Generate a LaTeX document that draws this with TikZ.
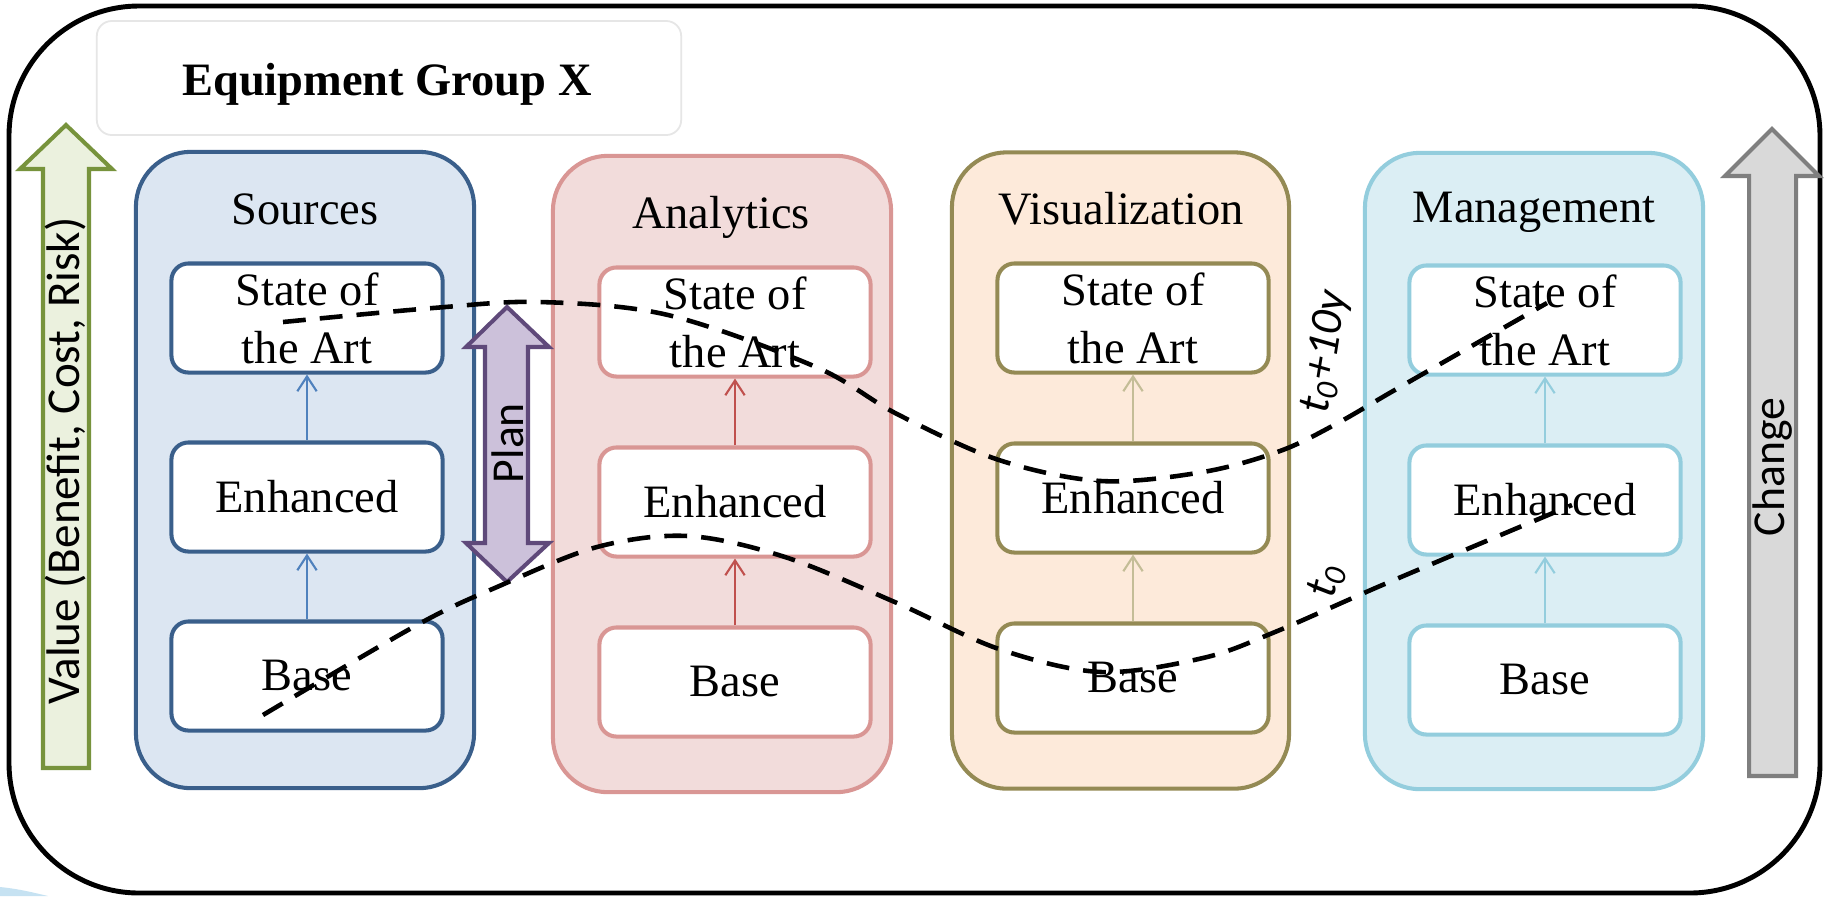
\documentclass[tikz,border=0pt]{standalone}
\usepackage{fontspec}
\setmainfont{Liberation Serif}
\newfontfamily\calib{Carlito}
\usetikzlibrary{arrows.meta}

% palette
\definecolor{srcfill}{HTML}{DCE6F2}
\definecolor{srcline}{HTML}{3A5F8B}
\definecolor{srcarrow}{HTML}{4F81BD}
\definecolor{anafill}{HTML}{F2DCDB}
\definecolor{analine}{HTML}{D99694}
\definecolor{anaarrow}{HTML}{C0504D}
\definecolor{visfill}{HTML}{FDEADA}
\definecolor{visline}{HTML}{948A54}
\definecolor{visarrow}{HTML}{C4BD97}
\definecolor{mgtfill}{HTML}{DBEEF4}
\definecolor{mgtline}{HTML}{93CDDD}
\definecolor{valfill}{HTML}{EBF1DE}
\definecolor{valline}{HTML}{77933C}
\definecolor{planfill}{HTML}{CCC1DA}
\definecolor{planline}{HTML}{5F497A}
\definecolor{chgfill}{HTML}{D9D9D9}
\definecolor{chgline}{HTML}{7F7F7F}
\definecolor{titleline}{HTML}{E6E6E6}
\definecolor{swoosh}{HTML}{C6E2F2}

\newcommand\stagefont{\fontsize{13.2pt}{16.5pt}\selectfont}
\newcommand\sidefont{\calib\fontsize{13pt}{15pt}\selectfont}
\newcommand\horizonfont{\calib\itshape\fontsize{13pt}{15pt}\selectfont}

\tikzset{
  panel/.style={draw, rounded corners=0.55cm, line width=1.15pt,
    minimum width=3.38cm, minimum height=6.36cm, inner sep=0pt},
  stage/.style={draw, fill=white, rounded corners=0.17cm, line width=1.15pt,
    minimum width=2.71cm, minimum height=1.09cm, inner sep=0pt,
    align=center, font=\stagefont},
  ptitle/.style={anchor=base, font=\stagefont, inner sep=0pt},
  lift/.style={line width=0.6pt, -{Straight Barb[length=4.2pt,width=5.5pt]}},
  blockarrow/.style={line width=1.15pt, line join=miter},
  sidelabel/.style={font=\sidefont, rotate=90, inner sep=0pt},
  horizon/.style={line width=1.3pt, dash pattern=on 6.5pt off 4pt},
  horizonlabel/.style={font=\horizonfont, inner sep=0pt},
}

\begin{document}
\begin{tikzpicture}[x=0.01cm, y=-0.01cm]
  \useasboundingbox (0,0) rectangle (1824,896);
  \fill[white] (0,0) rectangle (1824,896);
  \fill[swoosh] (0,887) .. controls (20,889) and (35,893) .. (48,896) -- (0,896) -- cycle;

  % outer frame and heading
  \draw[line width=1.4pt, rounded corners=1.3cm] (9,6) rectangle (1820,893);
  \node[draw=titleline, line width=0.5pt, rounded corners=0.15cm,
        minimum width=5.84cm, minimum height=1.14cm] (titlebox) at (389,78) {};
  \node[anchor=base, font=\stagefont\bfseries, inner sep=0pt] (title) at (387,95) {Equipment Group X};

  % value axis
  \draw[blockarrow, draw=valline, fill=valfill]
    (43,768) -- (43,169) -- (20,169) -- (66,125) -- (112,169) -- (89,169) -- (89,768) -- cycle;
  \node[sidelabel, font=\calib\fontsize{13.4pt}{15pt}\selectfont] (valuelabel) at (66,461) {Value (Benefit, Cost, Risk)};

  % change axis
  \draw[blockarrow, draw=chgline, fill=chgfill]
    (1749,776) -- (1749,176) -- (1725,176) -- (1772,129) -- (1819,176) -- (1796,176) -- (1796,776) -- cycle;
  \node[sidelabel] (changelabel) at (1773,467) {Change};

  % the four capability columns
  \node[panel, draw=srcline, fill=srcfill] (srcpanel) at (305,470) {};
  \node[panel, draw=analine, fill=anafill] (anapanel) at (722,474) {};
  \node[panel, draw=visline, fill=visfill, minimum width=3.37cm] (vispanel) at (1120.5,470.5) {};
  \node[panel, draw=mgtline, fill=mgtfill] (mgtpanel) at (1534,471) {};

  \node[ptitle] (srctitle) at (305,224) {Sources};
  \node[ptitle] (anatitle) at (721,228) {Analytics};
  \node[ptitle] (vistitle) at (1121,224) {Visualization};
  \node[ptitle] (mgttitle) at (1534,222) {Management};

  % Sources
  \node[stage, draw=srcline] (srcsota) at (307,318) {State of\\the Art};
  \node[stage, draw=srcline] (srcenh)  at (307,497) {Enhanced};
  \node[stage, draw=srcline] (srcbase) at (307,676) {Base};
  \draw[lift, srcarrow] (srcbase) -- (srcenh);
  \draw[lift, srcarrow] (srcenh) -- (srcsota);

  % Analytics
  \node[stage, draw=analine] (anasota) at (735,322) {State of\\the Art};
  \node[stage, draw=analine] (anaenh)  at (735,502) {Enhanced};
  \node[stage, draw=analine] (anabase) at (735,682) {Base};
  \draw[lift, anaarrow] (anabase) -- (anaenh);
  \draw[lift, anaarrow] (anaenh) -- (anasota);

  % Visualization
  \node[stage, draw=visline] (vissota) at (1133,318) {State of\\the Art};
  \node[stage, draw=visline] (visenh)  at (1133,498) {Enhanced};
  \node[stage, draw=visline] (visbase) at (1133,678) {Base};
  \draw[lift, visarrow] (visbase) -- (visenh);
  \draw[lift, visarrow] (visenh) -- (vissota);

  % Management
  \node[stage, draw=mgtline] (mgtsota) at (1545,320) {State of\\the Art};
  \node[stage, draw=mgtline] (mgtenh)  at (1545,500) {Enhanced};
  \node[stage, draw=mgtline] (mgtbase) at (1545,680) {Base};
  \draw[lift, mgtline] (mgtbase) -- (mgtenh);
  \draw[lift, mgtline] (mgtenh) -- (mgtsota);

  % planning span
  \draw[blockarrow, draw=planline, fill=planfill]
    (485,347) -- (466,347) -- (507,307) -- (549,347) -- (528,347) -- (528,543)
    -- (549,543) -- (507,582) -- (466,543) -- (485,543) -- cycle;
  \node[sidelabel] (planlabel) at (508,443) {Plan};

  % capability horizons
  \draw[horizon] plot[smooth, tension=0.55] coordinates {
    (283,322) (433,308) (540,302) (668,315) (816,367) (897,414) (999,460)
    (1101,481) (1203,472) (1280,451) (1336,424) (1400,387) (1547,303)};
  \draw[horizon] plot[smooth, tension=0.55] coordinates {
    (263,715) (417,625) (497,587) (597,547) (688,536) (785,557) (897,603)
    (999,649) (1101,672) (1203,658) (1275,632) (1387,583) (1572,505)};

  \node[horizonlabel, rotate=81] (laterlabel) at (1326,352) {t\textsubscript{0}+10y};
  \node[horizonlabel, rotate=76] (nowlabel) at (1327,581) {t\textsubscript{0}};
\end{tikzpicture}
\end{document}
